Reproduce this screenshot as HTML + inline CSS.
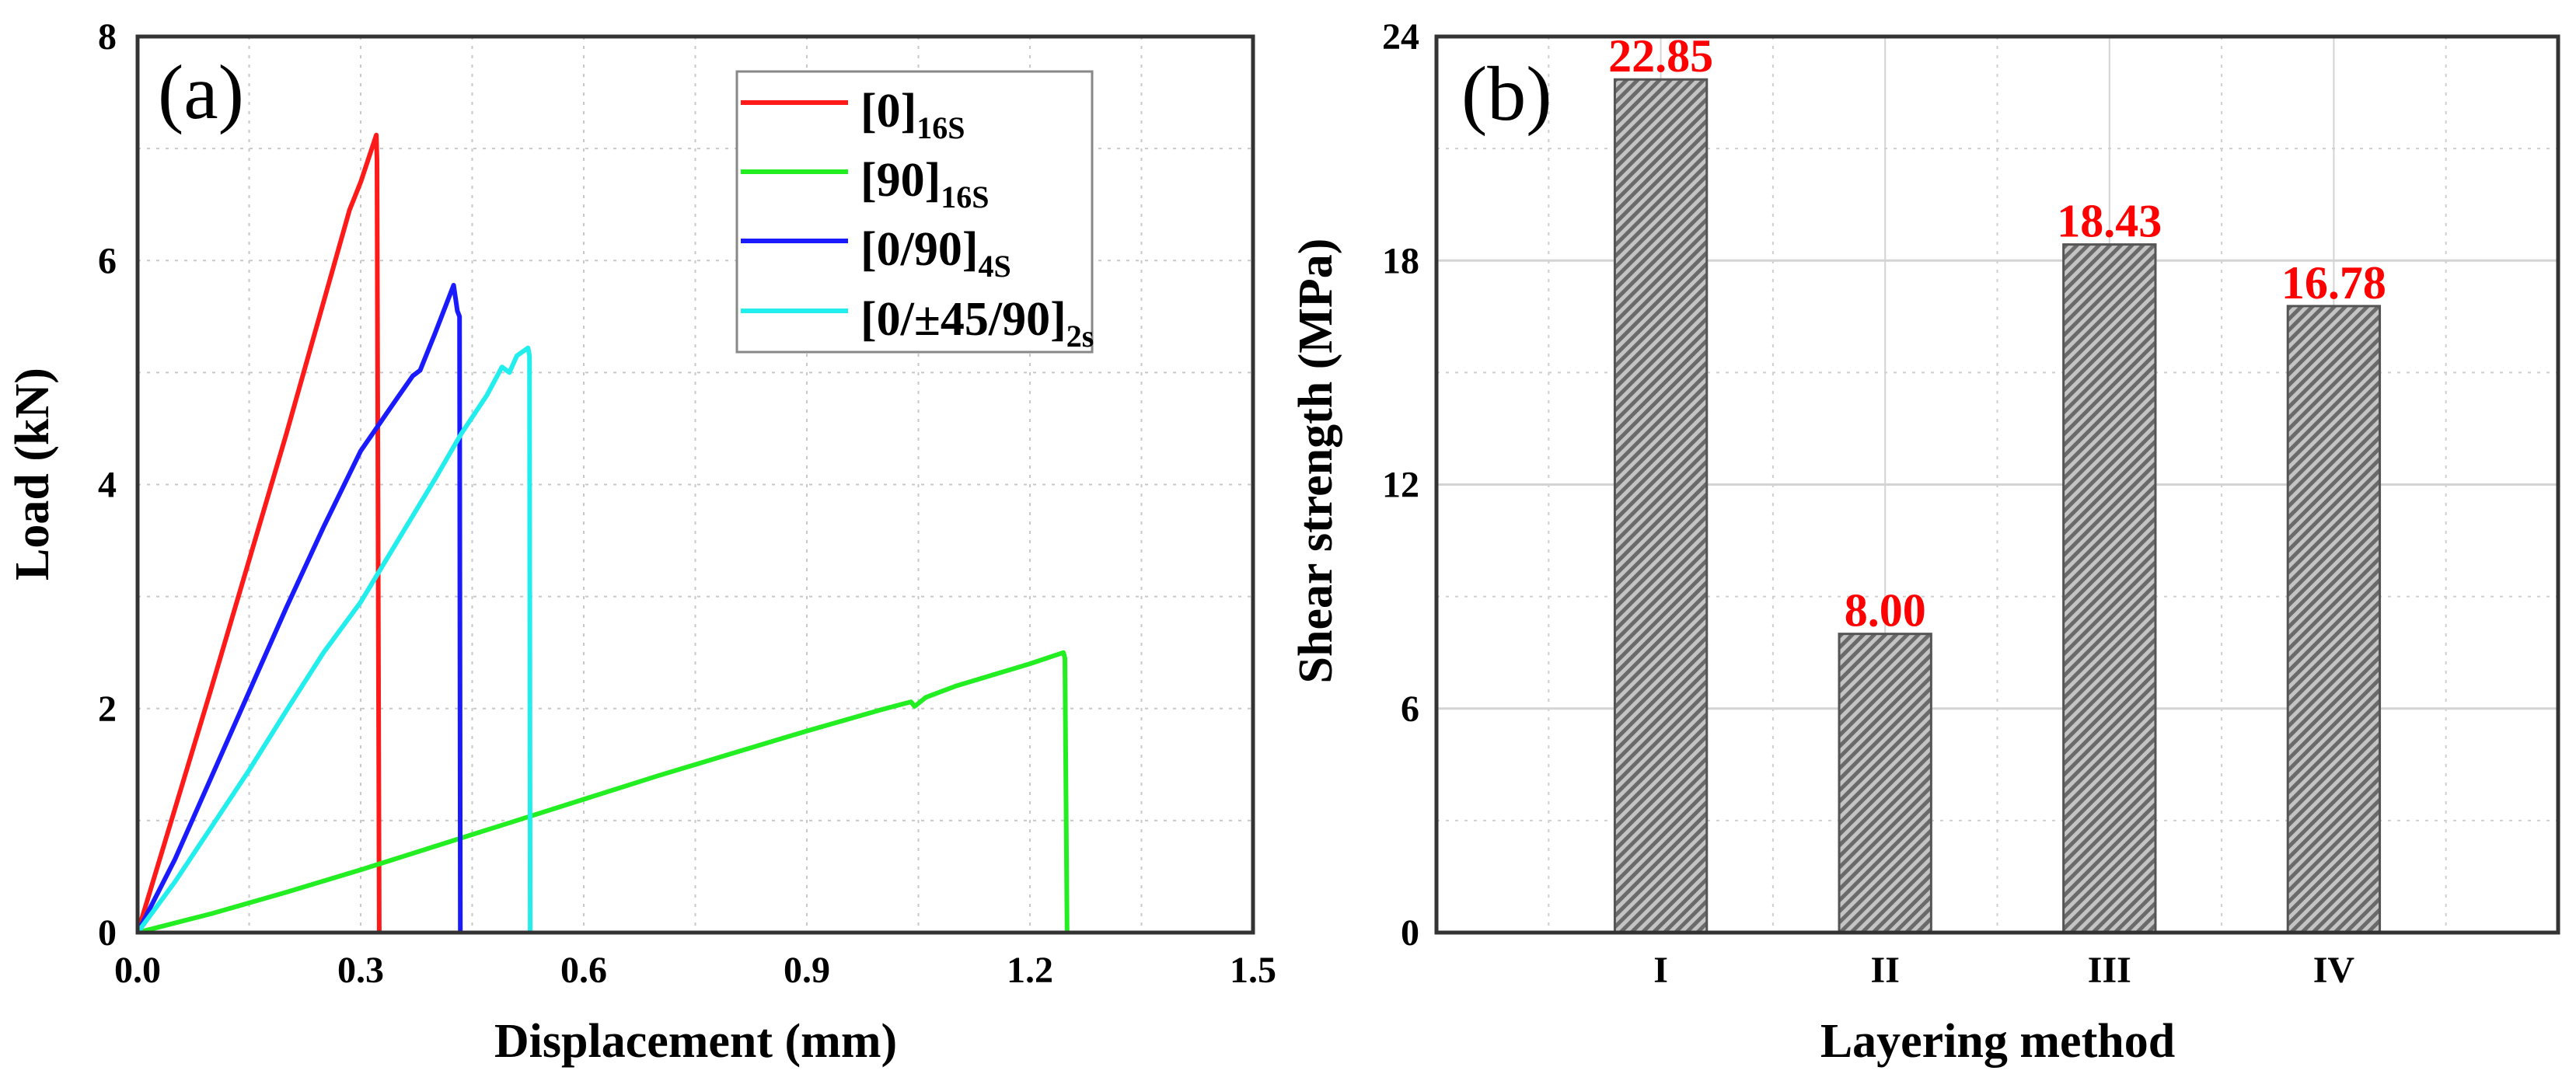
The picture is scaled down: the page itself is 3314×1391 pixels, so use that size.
<!DOCTYPE html>
<html><head><meta charset="utf-8">
<style>
html,body{margin:0;padding:0;background:#fff;}
svg{display:block;}
text{font-family:"Liberation Serif",serif;}
</style></head>
<body>
<svg id="fig" width="3314" height="1391" viewBox="0 0 3314 1391" xmlns="http://www.w3.org/2000/svg">
<defs>
<pattern id="hatch" patternUnits="userSpaceOnUse" width="10" height="10" patternTransform="rotate(45)">
<rect width="10" height="10" fill="#c4c4c4"/>
<rect width="5" height="10" fill="#6a6a6a"/>
</pattern>
<clipPath id="clipA"><rect x="177" y="47" width="1435" height="1153"/></clipPath>
</defs>
<g id="panelA"></g>
<g id="panelB"></g>
</svg>
<script>
// ---- Panel (a) data ----
const xTicksA = [0.0, 0.3, 0.6, 0.9, 1.2, 1.5];
const yTicksA = [0, 2, 4, 6, 8];
const seriesNames = ["[0]", "[90]", "[0/90]", "[0/±45/90]"];
const seriesSubs = ["16S", "16S", "4S", "2s"];
const seriesColors = ["#ff1a1a", "#22ee22", "#1a1aff", "#22eeee"];
const redX = [0, 0.1, 0.2, 0.285, 0.3, 0.321, 0.322, 0.325];
const redY = [0, 2.2, 4.45, 6.45, 6.7, 7.12, 6.9, 0];
const greenX = [0, 0.1, 0.2, 0.3, 0.4, 0.5, 0.6, 0.7, 0.8, 0.9, 1.0, 1.04, 1.045, 1.06, 1.1, 1.2, 1.245, 1.247, 1.25];
const greenY = [0, 0.17, 0.36, 0.56, 0.77, 0.98, 1.19, 1.4, 1.6, 1.8, 1.99, 2.06, 2.02, 2.1, 2.2, 2.4, 2.5, 2.45, 0];
const blueX = [0, 0.05, 0.1, 0.15, 0.2, 0.25, 0.3, 0.35, 0.37, 0.38, 0.4, 0.425, 0.43, 0.433, 0.434];
const blueY = [0, 0.65, 1.4, 2.15, 2.9, 3.62, 4.3, 4.78, 4.97, 5.02, 5.35, 5.78, 5.55, 5.5, 0];
const cyanX = [0, 0.05, 0.1, 0.15, 0.2, 0.25, 0.3, 0.35, 0.4, 0.435, 0.47, 0.49, 0.5, 0.51, 0.525, 0.527, 0.528];
const cyanY = [0, 0.45, 0.95, 1.45, 1.98, 2.5, 2.95, 3.5, 4.05, 4.45, 4.8, 5.05, 5.0, 5.15, 5.22, 5.15, 0];

// ---- Panel (b) data ----
const categories = ["I", "II", "III", "IV"];
const strengths = [22.85, 8.00, 18.43, 16.78];
const strengthLabels = ["22.85", "8.00", "18.43", "16.78"];
const yTicksB = [0, 6, 12, 18, 24];

const NS = "http://www.w3.org/2000/svg";
function mk(parent, tag, attrs, txt) {
  const e = document.createElementNS(NS, tag);
  for (const k in attrs) e.setAttribute(k, attrs[k]);
  if (txt !== undefined) e.textContent = txt;
  parent.appendChild(e);
  return e;
}

// ===== Panel A =====
const A = document.getElementById("panelA");
const aL = 177, aR = 1612, aT = 47, aB = 1200;
const xA = v => aL + (v - 0) / 1.5 * (aR - aL);
const yA = v => aB - v / 8 * (aB - aT);

for (let v = 0.15; v < 1.5; v += 0.15) {
  const g = mk(A, "line", {x1: xA(v), x2: xA(v), y1: aT, y2: aB, stroke: "#c8c8c8", "stroke-width": 2, "stroke-dasharray": "4,8"});
  
  
}
for (let v = 1; v < 8; v += 1) {
  const g = mk(A, "line", {x1: aL, x2: aR, y1: yA(v), y2: yA(v), stroke: "#c8c8c8", "stroke-width": 2, "stroke-dasharray": "4,8"});
  
  
}
const allX = [redX, greenX, blueX, cyanX];
const allY = [redY, greenY, blueY, cyanY];
const serNames = ["series-0-16s", "series-90-16s", "series-0-90-4s", "series-0-45-90-2s"];
for (let s = 0; s < 4; s++) {
  const pts = allX[s].map((x, i) => xA(x).toFixed(1) + "," + yA(allY[s][i]).toFixed(1)).join(" ");
  const p = mk(A, "polyline", {points: pts, fill: "none", stroke: seriesColors[s], "stroke-width": 6, "stroke-linejoin": "round", "clip-path": "url(#clipA)"});
  
  
}
const fa = mk(A, "rect", {x: aL, y: aT, width: aR - aL, height: aB - aT, fill: "none", stroke: "#333", "stroke-width": 5});


xTicksA.forEach(v => {
  const t = mk(A, "text", {x: xA(v), y: 1264, "font-size": 48, "font-weight": "bold", "text-anchor": "middle"}, v.toFixed(1));
  
  
});
yTicksA.forEach(v => {
  const t = mk(A, "text", {x: 150, y: yA(v) + 16, "font-size": 48, "font-weight": "bold", "text-anchor": "end"}, String(v));
  
  
});
let t = mk(A, "text", {x: 895, y: 1360, "font-size": 62, "font-weight": "bold", "text-anchor": "middle"}, "Displacement (mm)");


t = mk(A, "text", {x: 0, y: 0, "font-size": 62, "font-weight": "bold", "text-anchor": "middle", transform: "translate(62,610) rotate(-90)"}, "Load (kN)");


t = mk(A, "text", {x: 203, y: 152, "font-size": 100}, "(a)");


const lg = mk(A, "g", {});


mk(lg, "rect", {x: 948, y: 92, width: 457, height: 361, fill: "#fff", stroke: "#888", "stroke-width": 3});
const rowY = [132, 221, 310, 400];
for (let s = 0; s < 4; s++) {
  const e = mk(lg, "g", {});
  
  
  mk(e, "line", {x1: 953, x2: 1091, y1: rowY[s], y2: rowY[s], stroke: seriesColors[s], "stroke-width": 6});
  const tx = mk(e, "text", {x: 1107, y: rowY[s] + 31, "font-size": 62, "font-weight": "bold"});
  mk(tx, "tspan", {}, seriesNames[s]);
  mk(tx, "tspan", {"font-size": 40, dy: 15}, seriesSubs[s]);
}

// ===== Panel B =====
const B = document.getElementById("panelB");
const bL = 1848, bR = 3291, bT = 47, bB = 1200;
const xB = v => bL + v / 5 * (bR - bL);
const yB = v => bB - v / 24 * (bB - bT);
for (let i = 0; i < 5; i++) {
  const g = mk(B, "line", {x1: xB(i + 0.5), x2: xB(i + 0.5), y1: bT, y2: bB, stroke: "#cfcfcf", "stroke-width": 2, "stroke-dasharray": "4,8"});
  
  
}
categories.forEach((c, i) => {
  const g = mk(B, "line", {x1: xB(i + 1), x2: xB(i + 1), y1: bT, y2: bB, stroke: "#d4d4d4", "stroke-width": 2});
  
  
});
for (let v = 3; v < 24; v += 3) {
  const major = v % 6 === 0;
  const g = mk(B, "line", {x1: bL, x2: bR, y1: yB(v), y2: yB(v), stroke: major ? "#d4d4d4" : "#cfcfcf", "stroke-width": major ? 3 : 2, "stroke-dasharray": major ? "none" : "4,8"});
  
  
}
const barW = 0.41;
categories.forEach((c, i) => {
  const v = strengths[i];
  const r = mk(B, "rect", {x: xB(i + 1 - barW / 2), y: yB(v), width: xB(barW) - bL, height: yB(0) - yB(v), fill: "url(#hatch)", stroke: "#555", "stroke-width": 3});
  
  
  const l = mk(B, "text", {x: xB(i + 1), y: yB(v) - 10, "font-size": 60, "font-weight": "bold", fill: "#ff0000", "text-anchor": "middle"}, strengthLabels[i]);
  
  
  const cl = mk(B, "text", {x: xB(i + 1), y: 1264, "font-size": 48, "font-weight": "bold", "text-anchor": "middle"}, c);
  
  
});
const fb = mk(B, "rect", {x: bL, y: bT, width: bR - bL, height: bB - bT, fill: "none", stroke: "#333", "stroke-width": 5});


yTicksB.forEach(v => {
  const tt = mk(B, "text", {x: 1826, y: yB(v) + 16, "font-size": 48, "font-weight": "bold", "text-anchor": "end"}, String(v));
  
  
});
t = mk(B, "text", {x: 2570, y: 1360, "font-size": 62, "font-weight": "bold", "text-anchor": "middle"}, "Layering method");


t = mk(B, "text", {x: 0, y: 0, "font-size": 62, "font-weight": "bold", "text-anchor": "middle", transform: "translate(1713,593) rotate(-90)"}, "Shear strength (MPa)");


t = mk(B, "text", {x: 1880, y: 154, "font-size": 100}, "(b)");


</script>
</body></html>
